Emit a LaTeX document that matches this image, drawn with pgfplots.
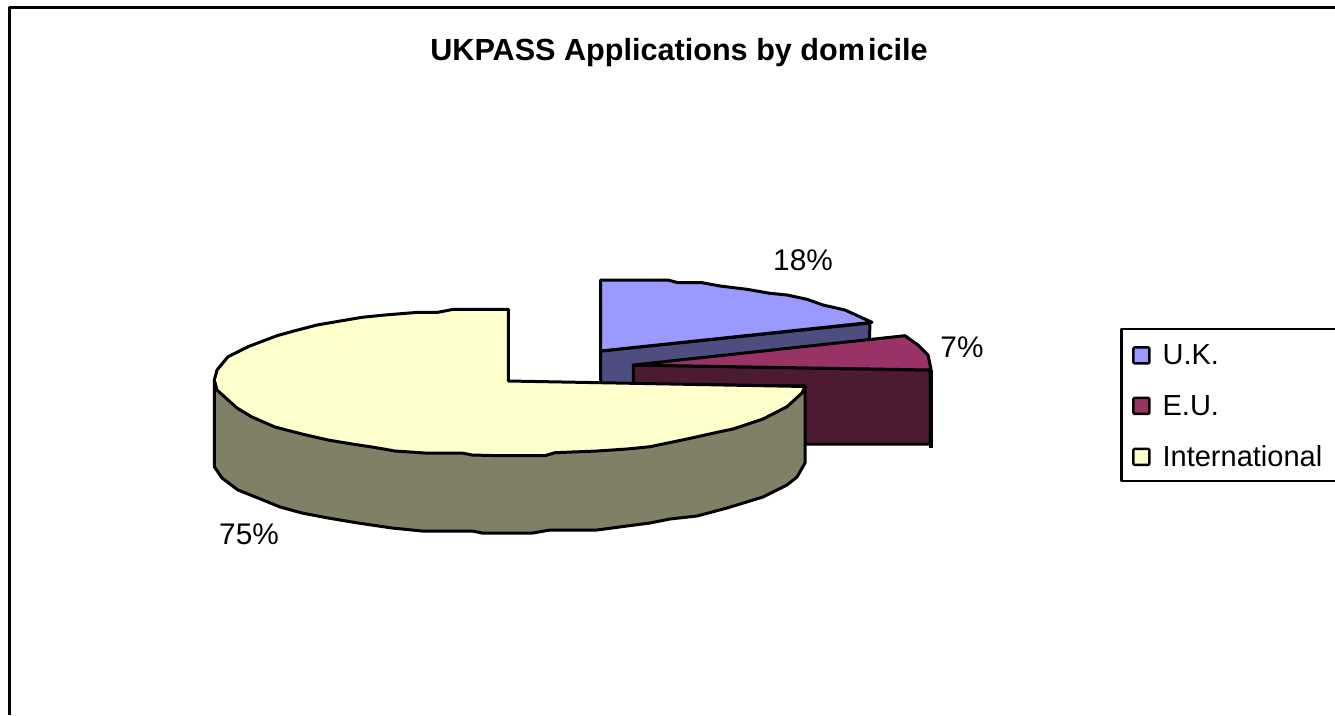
\documentclass[border=0pt]{standalone}
\usepackage{pgfplots}
\pgfplotsset{compat=1.18}
\usepackage{fontspec}
\setmainfont{Liberation Sans}
\definecolor{uk}{HTML}{9999FF}
\definecolor{ukd}{HTML}{4D4D80}
\definecolor{eu}{HTML}{993366}
\definecolor{eud}{HTML}{4D1A33}
\definecolor{in}{HTML}{FFFFCC}
\definecolor{ind}{HTML}{808066}
\newcommand{\fsz}{\fontsize{29}{33}\selectfont}
\newcommand{\lsz}{\fontsize{29.8}{33}\selectfont}
\newcommand{\tsz}{\fontsize{30.6}{33}\selectfont}
\pgfplotsset{sq/.style={legend image code/.code={\draw[##1,line width=2.4pt,rounded corners=1pt] (0pt,-8pt) rectangle (16pt,8pt);}}}
\begin{document}
\begin{tikzpicture}
\begin{axis}[
  scale only axis, width=1335pt, height=715pt,
  xmin=0, xmax=1335, ymin=0, ymax=715, y dir=reverse,
  hide axis, clip=true,
  legend style={at={(axis cs:1121,329)},anchor=north west,draw=none,fill=none,
    inner xsep=11pt,inner ysep=15.5pt,row sep=29pt,column sep=12pt,font=\fsz,
    nodes={inner sep=0pt,anchor=west}},
  legend cell align=left,
  every axis plot/.append style={line join=round,line cap=round,mark=none,line width=3pt,draw=black},
]
% page extent
\addplot[draw=none,fill=white,forget plot] coordinates {(0,0) (1335,0) (1335,715) (0,715)} -- cycle;
% frame
\addplot[line width=3pt,forget plot,line cap=butt] coordinates {(9,715) (9,7) (1335,7)};
% legend box
\addplot[line width=2.6pt,forget plot,line cap=butt] coordinates {(1335,329) (1121.5,329) (1121.5,481) (1335,481)};
% U.K.
\addplot[fill=ukd,forget plot] coordinates {(600.7,351) (870,323) (869,350) (600.7,390)} -- cycle;
\addplot[fill=uk,forget plot] coordinates {(600.7,280) (668,280) (678,282.7) (702,282.7) (720,286) (747,289.3) (770,293.3) (787,295) (807,299.3) (823,305) (845,310) (872,322.3) (600.7,351)} -- cycle;
% E.U.
\addplot[fill=eud,forget plot] coordinates {(633.3,365) (930,370) (930,444) (633.3,444)} -- cycle;
\addplot[fill=eu,forget plot] coordinates {(633.3,365) (905,335.7) (918,345) (928,355) (931,369) (930,370)} -- cycle;
\addplot[line width=4pt,forget plot,line cap=butt] coordinates {(930.5,370) (930.5,448)};
% International
\addplot[fill=ind,forget plot] coordinates {(214.3,380) (214.3,466.7) (222,478) (238,490) (263,500) (280,507) (302,513) (328,518) (358,523) (392,528) (422,531) (472,531) (482,533) (533,533) (550,530) (597,530) (627,526) (650,523) (670,519) (697,516) (727,508) (763,497) (787,485) (797,477) (805,463) (805,386)} -- cycle;
\addplot[fill=in,forget plot] coordinates {(508.3,381) (508.3,309.3) (453.3,309.3) (438,312.3) (418,312.3) (385,315) (362,317.3) (342,320.7) (317,325) (295,330.7) (277,335.7) (248,346.7) (228,356.7) (217,370) (214.3,380) (217,390) (237,408) (252,417) (275,427) (302,434) (328,440) (352,444) (372,447) (395,451) (425,453) (462,453) (472,455) (500,455.7) (545,455.7) (555,452.7) (597,451) (627,449) (650,446.7) (687,439) (720,431.7) (733,429) (763,419) (787,406.7) (802,393) (805,386.5)} -- cycle;
% legend
\addlegendimage{sq,fill=uk}\addlegendentry{U.K.}
\addlegendimage{sq,fill=eu}\addlegendentry{E.U.}
\addlegendimage{sq,fill=in}\addlegendentry{International}
% texts
\node[font=\tsz\bfseries,inner sep=0pt] at (axis cs:679,53) {UKPASS Applications by dom\kern3pt icile};
\node[font=\lsz,inner sep=0pt] at (axis cs:803,260) {18\%};
\node[font=\lsz,inner sep=0pt] at (axis cs:962,347) {7\%};
\node[font=\lsz,inner sep=0pt] at (axis cs:249,534) {75\%};
\end{axis}
\end{tikzpicture}
\end{document}
